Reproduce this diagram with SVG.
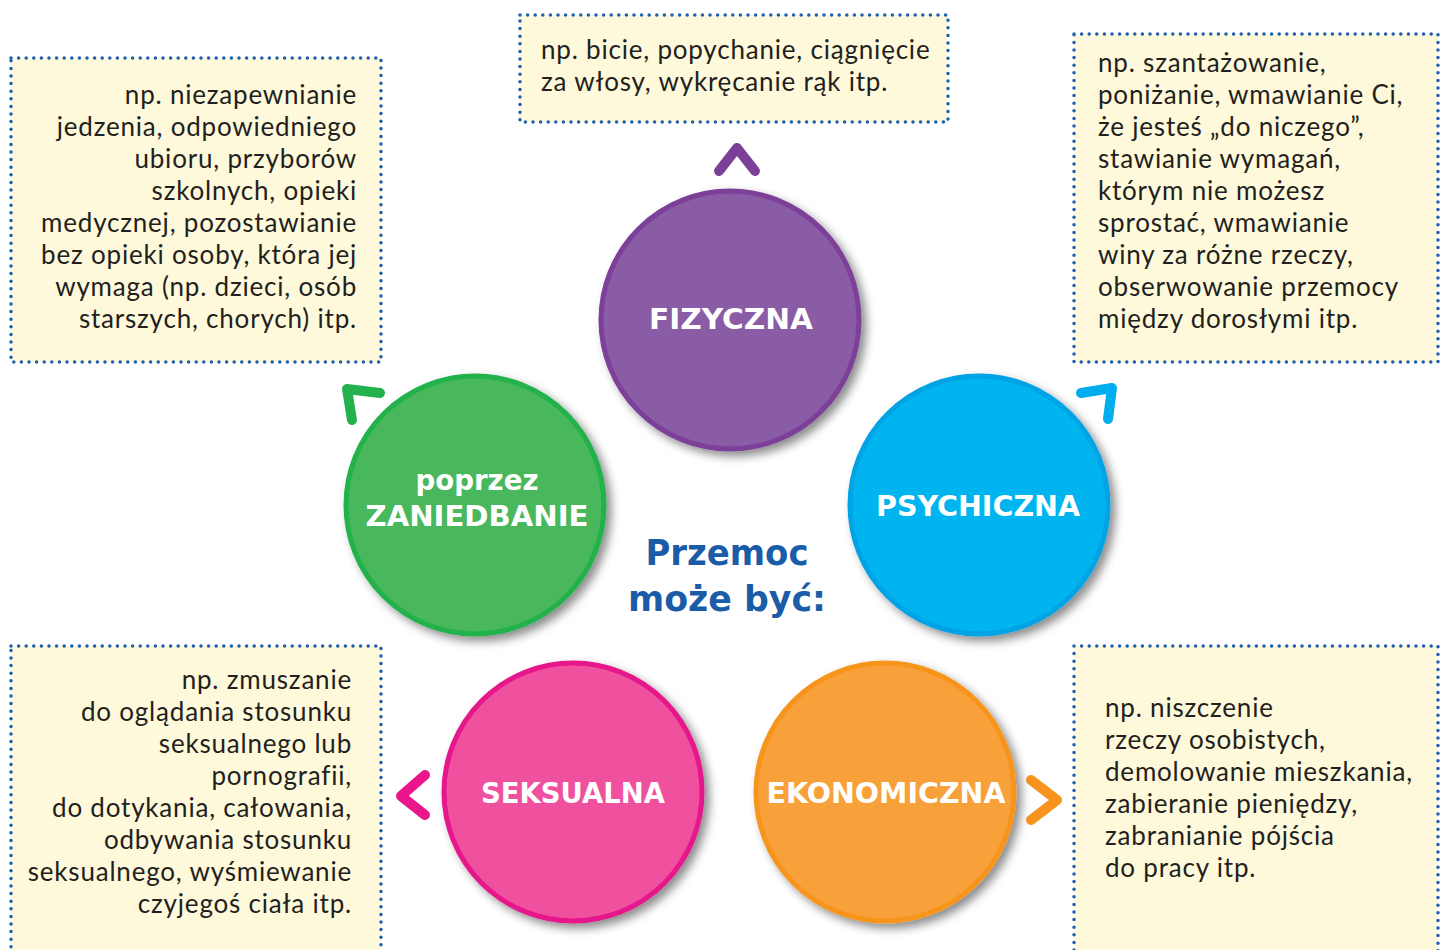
<svg xmlns="http://www.w3.org/2000/svg" width="1441" height="950" viewBox="0 0 1441 950">
<defs>
<filter id="sh" x="-20%" y="-20%" width="150%" height="150%">
<feDropShadow dx="5" dy="5" stdDeviation="5" flood-color="#000" flood-opacity="0.45"/>
</filter>
<style>
.box{fill:#fef9da;stroke:#1c5eb0;stroke-width:3.5;stroke-dasharray:0 7.6;stroke-linecap:round}
.t{font-family:Lato,"Open Sans","Noto Sans",sans-serif;font-size:26px;letter-spacing:0.8px;fill:#231f20}
.r{text-anchor:end}
.lbl{font-family:"Comic Sans MS","DejaVu Sans",sans-serif;font-weight:bold;font-size:28px;fill:#fff;text-anchor:middle}
.ttl{font-family:"Comic Sans MS","DejaVu Sans",sans-serif;font-weight:bold;font-size:36px;fill:#1a5ca8;text-anchor:middle}
.chev{fill:none;stroke-width:10;stroke-linecap:round;stroke-linejoin:round}
</style>
</defs>
<rect width="1441" height="950" fill="#fff"/>

<g id="box-zaniedbanie">
<rect class="box" x="11" y="58" width="370" height="304"/>
<text class="t r" x="357" y="104">np. niezapewnianie</text>
<text class="t r" x="357" y="136">jedzenia, odpowiedniego</text>
<text class="t r" x="357" y="168">ubioru, przyborów</text>
<text class="t r" x="357" y="200">szkolnych, opieki</text>
<text class="t r" x="357" y="232">medycznej, pozostawianie</text>
<text class="t r" x="357" y="264">bez opieki osoby, która jej</text>
<text class="t r" x="357" y="296">wymaga (np. dzieci, osób</text>
<text class="t r" x="357" y="328">starszych, chorych) itp.</text>
</g>

<g id="box-fizyczna">
<rect class="box" x="520" y="15" width="428" height="107"/>
<text class="t" x="541" y="59">np. bicie, popychanie, ciągnięcie</text>
<text class="t" x="541" y="91">za włosy, wykręcanie rąk itp.</text>
</g>

<g id="box-psychiczna">
<rect class="box" x="1074" y="34" width="364" height="328"/>
<text class="t" x="1098" y="72">np. szantażowanie,</text>
<text class="t" x="1098" y="104">poniżanie, wmawianie Ci,</text>
<text class="t" x="1098" y="136">że jesteś „do niczego”,</text>
<text class="t" x="1098" y="168">stawianie wymagań,</text>
<text class="t" x="1098" y="200">którym nie możesz</text>
<text class="t" x="1098" y="232">sprostać, wmawianie</text>
<text class="t" x="1098" y="264">winy za różne rzeczy,</text>
<text class="t" x="1098" y="296">obserwowanie przemocy</text>
<text class="t" x="1098" y="328">między dorosłymi itp.</text>
</g>

<g id="box-seksualna">
<rect class="box" x="11" y="646" width="370" height="320"/>
<text class="t r" x="352" y="689">np. zmuszanie</text>
<text class="t r" x="352" y="721">do oglądania stosunku</text>
<text class="t r" x="352" y="753">seksualnego lub</text>
<text class="t r" x="352" y="785">pornografii,</text>
<text class="t r" x="352" y="817">do dotykania, całowania,</text>
<text class="t r" x="352" y="849">odbywania stosunku</text>
<text class="t r" x="352" y="881">seksualnego, wyśmiewanie</text>
<text class="t r" x="352" y="913">czyjegoś ciała itp.</text>
</g>

<g id="box-ekonomiczna">
<rect class="box" x="1074" y="646" width="364" height="320"/>
<text class="t" x="1105" y="717">np. niszczenie</text>
<text class="t" x="1105" y="749">rzeczy osobistych,</text>
<text class="t" x="1105" y="781">demolowanie mieszkania,</text>
<text class="t" x="1105" y="813">zabieranie pieniędzy,</text>
<text class="t" x="1105" y="845">zabranianie pójścia</text>
<text class="t" x="1105" y="877">do pracy itp.</text>
</g>

<g id="connectors">
<polyline class="chev" stroke="#7b3f98" points="719,171 737,148 755,171"/>
<polyline class="chev" stroke="#22b14c" points="352,420 347,389 380,393"/>
<polyline class="chev" stroke="#00aeef" points="1081,393 1112,388 1108,419"/>
<polyline class="chev" stroke="#ec168c" points="425,775 401,796 425,815"/>
<polyline class="chev" stroke="#f7941d" points="1031,780 1057,800 1031,820"/>
</g>

<g id="node-fizyczna">
<circle cx="730" cy="320" r="129" fill="#8a5ca6" stroke="#7b3f98" stroke-width="5" filter="url(#sh)"/>
<text class="lbl" x="731" y="329" textLength="164" lengthAdjust="spacingAndGlyphs">FIZYCZNA</text>
</g>

<g id="node-zaniedbanie">
<circle cx="475" cy="505" r="129" fill="#48b85c" stroke="#22b14c" stroke-width="5" filter="url(#sh)"/>
<text class="lbl" x="477" y="490" textLength="123" lengthAdjust="spacingAndGlyphs">poprzez</text>
<text class="lbl" x="477" y="526" textLength="223" lengthAdjust="spacingAndGlyphs">ZANIEDBANIE</text>
</g>

<g id="node-psychiczna">
<circle cx="979" cy="505" r="129" fill="#00b4ef" stroke="#00a3e4" stroke-width="5" filter="url(#sh)"/>
<text class="lbl" x="978" y="516" textLength="204" lengthAdjust="spacingAndGlyphs">PSYCHICZNA</text>
</g>

<g id="node-seksualna">
<circle cx="573" cy="792" r="129" fill="#ef519e" stroke="#e6178b" stroke-width="5" filter="url(#sh)"/>
<text class="lbl" x="573" y="803" textLength="184" lengthAdjust="spacingAndGlyphs">SEKSUALNA</text>
</g>

<g id="node-ekonomiczna">
<circle cx="885" cy="792" r="129" fill="#f8a13b" stroke="#f7941d" stroke-width="5" filter="url(#sh)"/>
<text class="lbl" x="886" y="803" textLength="239" lengthAdjust="spacingAndGlyphs">EKONOMICZNA</text>
</g>

<g id="title">
<text class="ttl" x="727" y="565" textLength="163" lengthAdjust="spacingAndGlyphs">Przemoc</text>
<text class="ttl" x="727" y="611" textLength="198" lengthAdjust="spacingAndGlyphs">może być:</text>
</g>
</svg>
